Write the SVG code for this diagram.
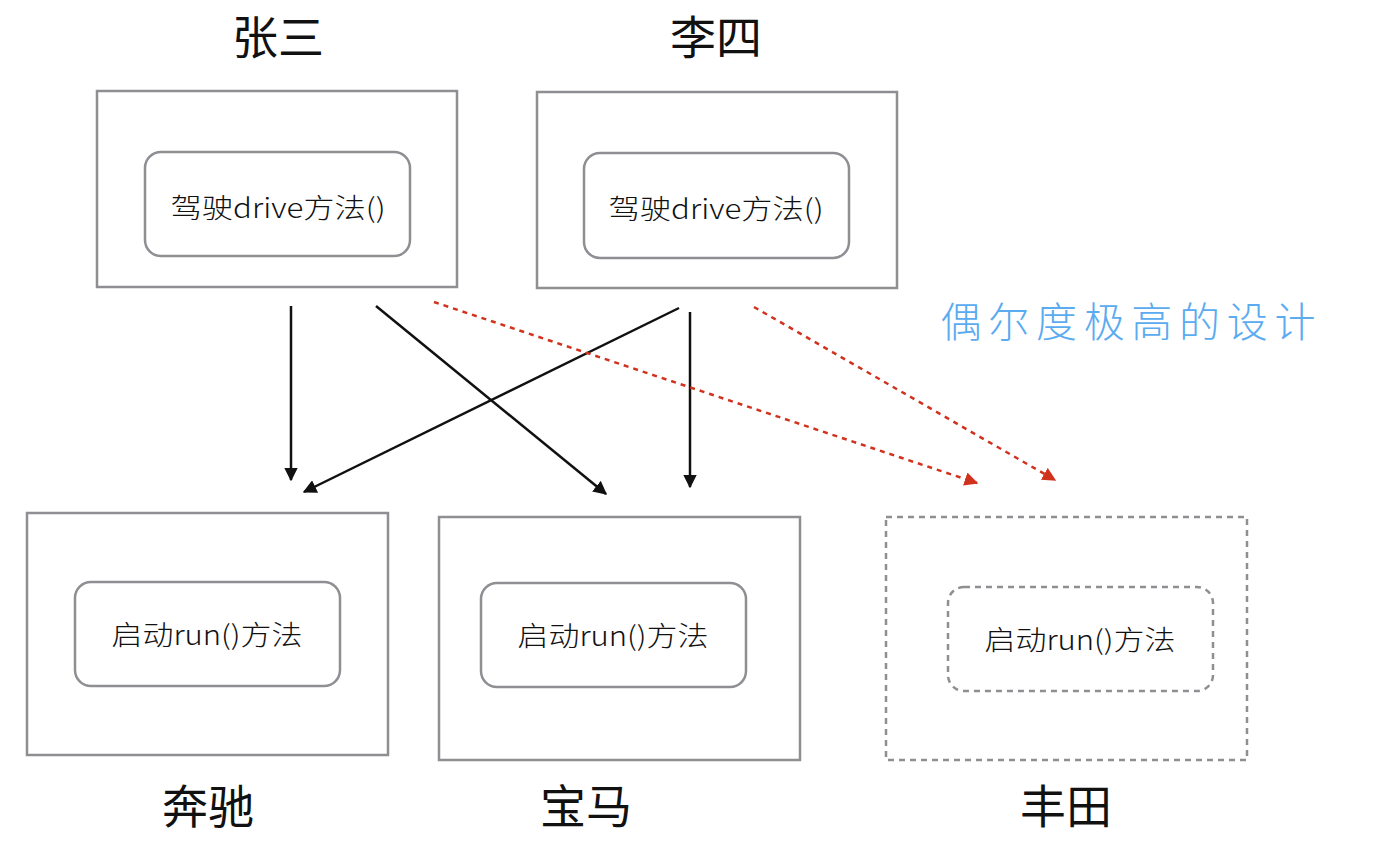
<svg xmlns="http://www.w3.org/2000/svg" width="1373" height="854" viewBox="0 0 1373 854">
<style>
.box{fill:#fff;stroke:#8e8e93;stroke-width:2.5}
.inner{fill:#fff;stroke:#8e8e93;stroke-width:2.5}
.dash{stroke-dasharray:6 5}
.t{font-family:"Noto Sans CJK SC","Noto Sans",sans-serif;fill:#111;text-anchor:middle}
.lbl{font-size:46px}
.m{font-size:27px;font-weight:300}
.blk{stroke:#111;stroke-width:2.5;fill:none}
.red{stroke:#d0321e;stroke-width:2.5;fill:none;stroke-dasharray:5 5}
</style>
<defs>
<marker id="ab" viewBox="0 0 10 10" refX="9" refY="5" markerWidth="5.5" markerHeight="5.5" orient="auto" markerUnits="strokeWidth"><path d="M0,0 L10,5 L0,10 Z" fill="#111"/></marker>
<marker id="ar" viewBox="0 0 10 10" refX="9" refY="5" markerWidth="5.5" markerHeight="5.5" orient="auto" markerUnits="strokeWidth"><path d="M0,0 L10,5 L0,10 Z" fill="#d0321e"/></marker>
</defs>
<rect width="1373" height="854" fill="#fff"/>
<g id="zhangsan">
<text class="t lbl" x="278" y="54">张三</text>
<rect class="box" x="97" y="91" width="360" height="196"/>
<rect class="inner" x="145" y="152" width="265" height="104" rx="16"/>
<text class="t m" x="278" y="218" textLength="215" lengthAdjust="spacingAndGlyphs">驾驶drive方法()</text>
</g>
<g id="lisi">
<text class="t lbl" x="716" y="54">李四</text>
<rect class="box" x="537" y="92" width="360" height="196"/>
<rect class="inner" x="584" y="153" width="265" height="105" rx="16"/>
<text class="t m" x="716" y="219" textLength="215" lengthAdjust="spacingAndGlyphs">驾驶drive方法()</text>
</g>
<g id="benz">
<rect class="box" x="27" y="513" width="361" height="242"/>
<rect class="inner" x="75" y="582" width="265" height="104" rx="16"/>
<text class="t m" x="207" y="645" textLength="191" lengthAdjust="spacingAndGlyphs">启动run()方法</text>
<text class="t lbl" x="208" y="823">奔驰</text>
</g>
<g id="bmw">
<rect class="box" x="439" y="517" width="361" height="243"/>
<rect class="inner" x="481" y="583" width="265" height="104" rx="16"/>
<text class="t m" x="613" y="646" textLength="191" lengthAdjust="spacingAndGlyphs">启动run()方法</text>
<text class="t lbl" x="586" y="823">宝马</text>
</g>
<g id="toyota">
<rect class="box dash" x="886" y="517" width="361" height="243"/>
<rect class="inner dash" x="948" y="587" width="265" height="104" rx="16"/>
<text class="t m" x="1080" y="650" textLength="191" lengthAdjust="spacingAndGlyphs">启动run()方法</text>
<text class="t lbl" x="1066" y="823">丰田</text>
</g>
<g id="note">
<text x="1128" y="337" font-family="'Noto Sans CJK SC',sans-serif" font-size="41" font-weight="300" fill="#5aabf0" text-anchor="middle" textLength="375" lengthAdjust="spacing">偶尔度极高的设计</text>
</g>
<g id="connectors">
<line class="blk" x1="291" y1="306" x2="291" y2="480" marker-end="url(#ab)"/>
<line class="blk" x1="376" y1="306" x2="606" y2="494" marker-end="url(#ab)"/>
<line class="blk" x1="679" y1="308" x2="304" y2="492" marker-end="url(#ab)"/>
<line class="blk" x1="690" y1="312" x2="690" y2="487" marker-end="url(#ab)"/>
<line class="red" x1="434" y1="302" x2="977" y2="483" marker-end="url(#ar)"/>
<line class="red" x1="754" y1="307" x2="1055" y2="480" marker-end="url(#ar)"/>
</g>
</svg>
